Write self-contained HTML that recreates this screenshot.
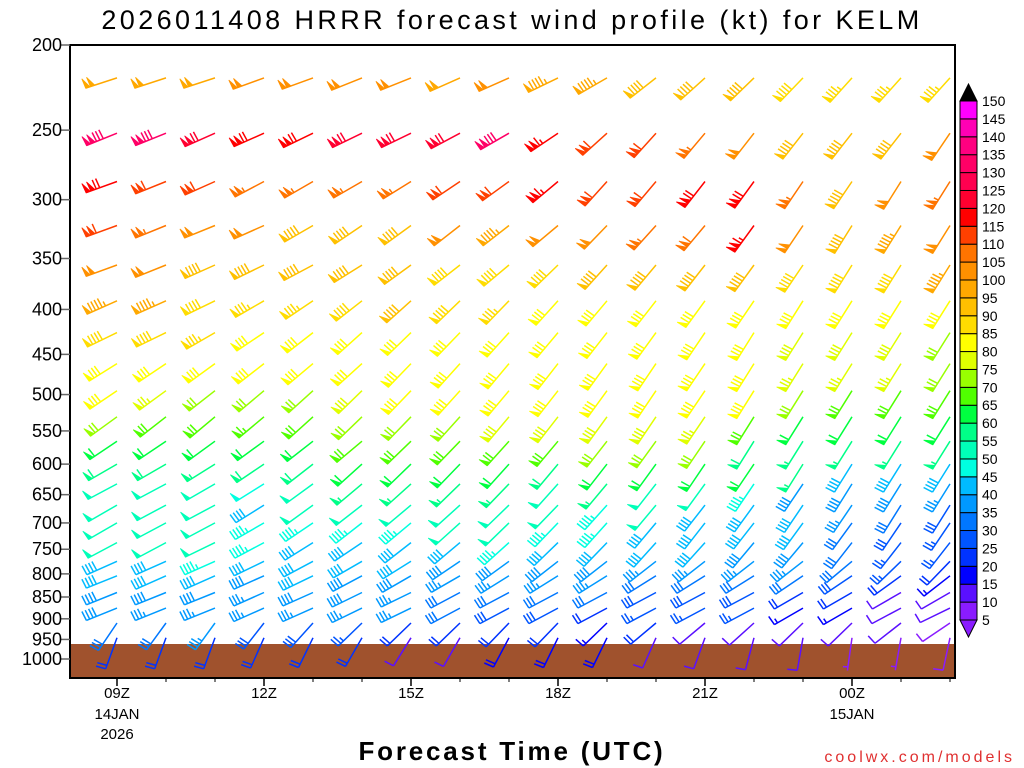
<!DOCTYPE html>
<html><head><meta charset="utf-8">
<style>
html,body{margin:0;padding:0;background:#fff;}
svg{display:block;}
text{font-family:"Liberation Sans",sans-serif;}
</style></head>
<body>
<svg id="chart" width="1024" height="768" viewBox="0 0 1024 768">
<text x="512" y="29" text-anchor="middle" font-size="27" fill="#000" letter-spacing="3.4">2026011408 HRRR forecast wind profile (kt) for KELM</text>
<rect x="70" y="644" width="885" height="34" fill="#a0522d"/>
<g id="barbs"></g>
<rect x="70" y="45" width="885" height="633" fill="none" stroke="#000" stroke-width="2"/>
<g id="yaxis"></g>
<g id="xaxis"></g>
<g id="cbar"></g>
<text x="512" y="760" text-anchor="middle" font-size="26" font-weight="bold" letter-spacing="2.8" fill="#000">Forecast Time (UTC)</text>
<text x="1015" y="762" text-anchor="end" font-size="16" letter-spacing="3" fill="#e03030">coolwx.com/models</text>
</svg>
<script>
// ---- data ----
const pressureTicks = [200,250,300,350,400,450,500,550,600,650,700,750,800,850,900,950,1000];
const levels = [218,252,286,321,356,391,425,461,495,530,565,600,632,668,700,737,774,804,840,875,910,946];
const hours = [9,10,11,12,13,14,15,16,17,18,19,20,21,22,23,24,25,26];
const xTickHours = [9,12,15,18,21,24];
const xTickLabels = ["09Z","12Z","15Z","18Z","21Z","00Z"];
const xTickDates = ["14JAN","","","","","15JAN"];
const xTickYears = ["2026","","","","",""];
const speeds = [
[98,98,98,100,102,102,100,98,100,97,95,90,90,90,88,85,85,85],
[132,130,120,118,118,120,120,120,130,115,110,112,105,100,92,92,92,100],
[118,110,112,105,105,105,105,110,110,115,112,112,118,118,105,92,100,105],
[110,105,102,100,90,92,92,100,95,100,100,105,108,115,100,90,95,102],
[100,100,90,90,90,90,90,88,88,88,92,92,92,92,88,88,88,95],
[95,95,88,85,85,88,90,88,85,82,82,82,82,82,82,82,82,82],
[88,88,85,82,82,82,82,82,82,82,82,80,80,80,78,78,78,70],
[82,82,82,82,80,80,80,80,80,80,80,80,80,80,75,75,75,72],
[80,75,72,72,72,78,80,80,80,80,80,80,80,80,70,68,68,68],
[70,68,68,66,68,72,70,70,78,78,78,78,75,68,62,62,62,60],
[62,60,62,60,62,68,68,68,68,68,72,70,70,58,55,55,55,55],
[58,58,55,58,58,60,60,60,60,58,62,62,62,60,55,42,42,42],
[52,52,52,48,52,55,55,55,55,52,55,52,50,45,38,38,38,35],
[50,50,50,42,50,50,50,50,50,50,45,50,42,42,40,35,32,28],
[50,50,50,45,45,45,45,50,50,45,45,42,42,40,40,30,28,25],
[50,50,50,45,40,42,42,40,45,40,40,40,40,38,38,30,25,25],
[40,40,45,40,40,40,40,38,38,38,38,35,35,35,35,32,25,20],
[40,40,40,38,40,38,38,35,35,35,35,32,32,32,30,28,22,15],
[38,38,38,35,38,38,35,32,32,32,32,28,28,28,20,22,12,12],
[38,35,35,35,35,35,35,32,28,28,22,25,25,25,15,15,12,10],
[32,32,35,28,28,25,22,22,22,22,15,20,12,12,12,10,10,8],
[22,22,22,20,20,20,12,12,18,18,18,12,10,10,10,7,7,8]
];
const dirs = [
[252,252,252,250,250,248,248,246,246,244,240,232,228,226,224,222,222,222],
[248,248,246,246,244,244,244,242,240,236,228,222,220,218,218,218,218,214],
[250,248,246,242,240,240,238,236,234,230,222,220,218,216,214,214,212,212],
[250,248,248,246,240,236,234,232,232,230,224,222,220,216,214,212,212,212],
[250,248,246,244,242,238,234,232,230,226,222,220,218,216,214,212,212,212],
[246,246,244,240,236,232,228,226,224,222,220,218,216,214,212,212,212,212],
[244,244,240,236,232,228,226,224,222,220,218,216,214,212,212,212,212,212],
[238,236,234,232,230,228,224,222,220,218,216,214,214,212,212,212,212,212],
[236,234,232,230,228,226,224,222,220,218,216,214,214,212,212,212,212,212],
[234,232,230,230,228,226,224,222,220,218,216,214,214,212,212,212,212,212],
[236,236,234,234,232,230,226,224,222,220,218,216,214,212,212,212,212,212],
[240,240,238,236,232,228,226,224,222,220,218,216,214,214,212,212,212,212],
[242,242,240,238,234,230,228,226,224,222,220,218,216,214,214,212,212,212],
[240,242,242,238,234,232,230,228,226,224,222,220,218,216,214,214,212,212],
[240,242,242,240,236,232,230,228,226,224,222,220,218,218,216,216,214,214],
[242,242,244,242,238,236,232,230,228,226,224,222,222,220,220,218,218,218],
[246,246,246,244,242,240,238,236,234,232,232,232,232,232,232,230,226,224],
[248,246,246,246,244,242,240,240,238,238,238,238,238,238,236,236,234,232],
[248,248,248,246,246,244,244,242,242,242,242,242,242,242,240,240,240,240],
[248,248,248,246,246,244,244,242,242,242,242,242,242,242,240,240,242,244],
[214,216,216,218,222,226,226,226,224,224,226,230,230,228,226,226,232,236],
[200,200,200,204,206,210,212,210,208,206,206,204,200,195,190,188,190,192]
];
const cbarValues = [5,10,15,20,25,30,35,40,45,50,55,60,65,70,75,80,85,90,95,100,105,110,115,120,125,130,135,140,145,150];
const cbarColors = ["#8a1cff","#5a10ff","#0000ff","#0033ff","#0055ff","#0077ff","#0099ff","#00bbff","#00ffe0","#00ffb8","#00ff88","#00ff40","#50ff00","#99ff00","#e0ff00","#ffff00","#ffdc00","#ffc000","#ffa800","#ff9000","#ff7400","#ff4000","#ff0000","#ff0030","#ff0050","#ff0066","#ff0080","#ff00b4","#ff00ff"];

// ---- scales ----
const NS="http://www.w3.org/2000/svg";
function yScale(p){return 45+381.5*Math.log(p/200);}
function xScale(h){return 117+49*(h-9);}
function colorFor(s){
  let i=Math.floor((s-5)/5);
  if(i<0)i=0; if(i>cbarColors.length-1)i=cbarColors.length-1;
  return cbarColors[i];
}
function mk(tag,attrs,parent){
  const e=document.createElementNS(NS,tag);
  for(const k in attrs)e.setAttribute(k,attrs[k]);
  parent.appendChild(e);return e;
}

// ---- barbs ----
const gB=document.getElementById('barbs');
const STAFF=33, FEATH=10, SP=3.6;
levels.forEach((p,ri)=>{
  hours.forEach((h,ci)=>{
    const s=speeds[ri][ci], d=dirs[ri][ci]*Math.PI/180;
    const sx=xScale(h), sy=yScale(p);
    const ux=Math.sin(d), uy=-Math.cos(d);
    const tx=sx+ux*STAFF, ty=sy+uy*STAFF;
    const a=Math.atan2(uy,ux)+Math.PI/2*0.95;
    const fx=Math.cos(a), fy=Math.sin(a);
    const col=colorFor(s);
    const g=mk('g',{},gB);
    
    
    let path=`M${sx.toFixed(1)},${sy.toFixed(1)}L${tx.toFixed(1)},${ty.toFixed(1)}`;
    let rem=Math.round(s/5)*5, pos=0, fills="";
    while(rem>=50){
      const bx=tx-ux*pos, by=ty-uy*pos;
      const ex=tx-ux*(pos+4.5), ey=ty-uy*(pos+4.5);
      fills+=`M${bx.toFixed(1)},${by.toFixed(1)}L${(bx+fx*FEATH).toFixed(1)},${(by+fy*FEATH).toFixed(1)}L${ex.toFixed(1)},${ey.toFixed(1)}Z`;
      pos+=5; rem-=50;
    }
    if(pos>0)pos+=1;
    while(rem>=10){
      const bx=tx-ux*pos, by=ty-uy*pos;
      path+=`M${bx.toFixed(1)},${by.toFixed(1)}l${(fx*FEATH).toFixed(1)},${(fy*FEATH).toFixed(1)}`;
      pos+=SP; rem-=10;
    }
    if(rem>=5){
      if(pos===0)pos=SP;
      const bx=tx-ux*pos, by=ty-uy*pos;
      path+=`M${bx.toFixed(1)},${by.toFixed(1)}l${(fx*FEATH/2).toFixed(1)},${(fy*FEATH/2).toFixed(1)}`;
    }
    mk('path',{d:path,stroke:col,'stroke-width':1.5,fill:'none'},g);
    if(fills)mk('path',{d:fills,fill:col,stroke:col,'stroke-width':0.8},g);
  });
});

// ---- y axis ----
const gY=document.getElementById('yaxis');
pressureTicks.forEach(p=>{
  const y=yScale(p);
  const t=mk('line',{x1:60,x2:70,y1:y,y2:y,stroke:'#666','stroke-width':1.5},gY);
  
  
  const l=mk('text',{x:62,y:y+6,'text-anchor':'end','font-size':18,fill:'#000'},gY);
  
  
  l.textContent=p;
});

// ---- x axis ----
const gX=document.getElementById('xaxis');
hours.forEach(h=>{
  const x=xScale(h);
  const t=mk('line',{x1:x,x2:x,y1:678,y2:682,stroke:'#000','stroke-width':1},gX);
  
  
});
xTickHours.forEach((h,i)=>{
  const x=xScale(h);
  const t=mk('line',{x1:x,x2:x,y1:678,y2:686,stroke:'#000','stroke-width':1.5},gX);
  
  
  const l=mk('text',{x:x,y:698,'text-anchor':'middle','font-size':15,fill:'#000'},gX);
  
  
  l.textContent=xTickLabels[i];
  if(xTickDates[i]){
    const d=mk('text',{x:x,y:719,'text-anchor':'middle','font-size':15,fill:'#000'},gX);
    
    
    d.textContent=xTickDates[i];
  }
  if(xTickYears[i]){
    const yv=mk('text',{x:x,y:739,'text-anchor':'middle','font-size':15,fill:'#000'},gX);
    
    
    yv.textContent=xTickYears[i];
  }
});

// ---- colorbar ----
const gC=document.getElementById('cbar');
const cTop=101, cBot=620, cx0=960, cx1=977;
function cy(v){return cBot-(v-5)/(150-5)*(cBot-cTop);}
cbarColors.forEach((c,i)=>{
  const y1=cy(cbarValues[i+1]), y2=cy(cbarValues[i]);
  const r=mk('rect',{x:cx0,y:y1,width:cx1-cx0,height:y2-y1,fill:c,stroke:'#000','stroke-width':1},gC);
  
  
});
const up=mk('polygon',{points:`${cx0},${cTop} ${cx1},${cTop} ${(cx0+cx1)/2},${cTop-17}`,fill:'#000',stroke:'#000'},gC);


const dn=mk('polygon',{points:`${cx0},${cBot} ${cx1},${cBot} ${(cx0+cx1)/2},${cBot+17}`,fill:'#8a1cff',stroke:'#000'},gC);


cbarValues.forEach(v=>{
  const l=mk('text',{x:982,y:cy(v)+5,'font-size':14,fill:'#000'},gC);
  
  
  l.textContent=v;
});
</script>
</body></html>
